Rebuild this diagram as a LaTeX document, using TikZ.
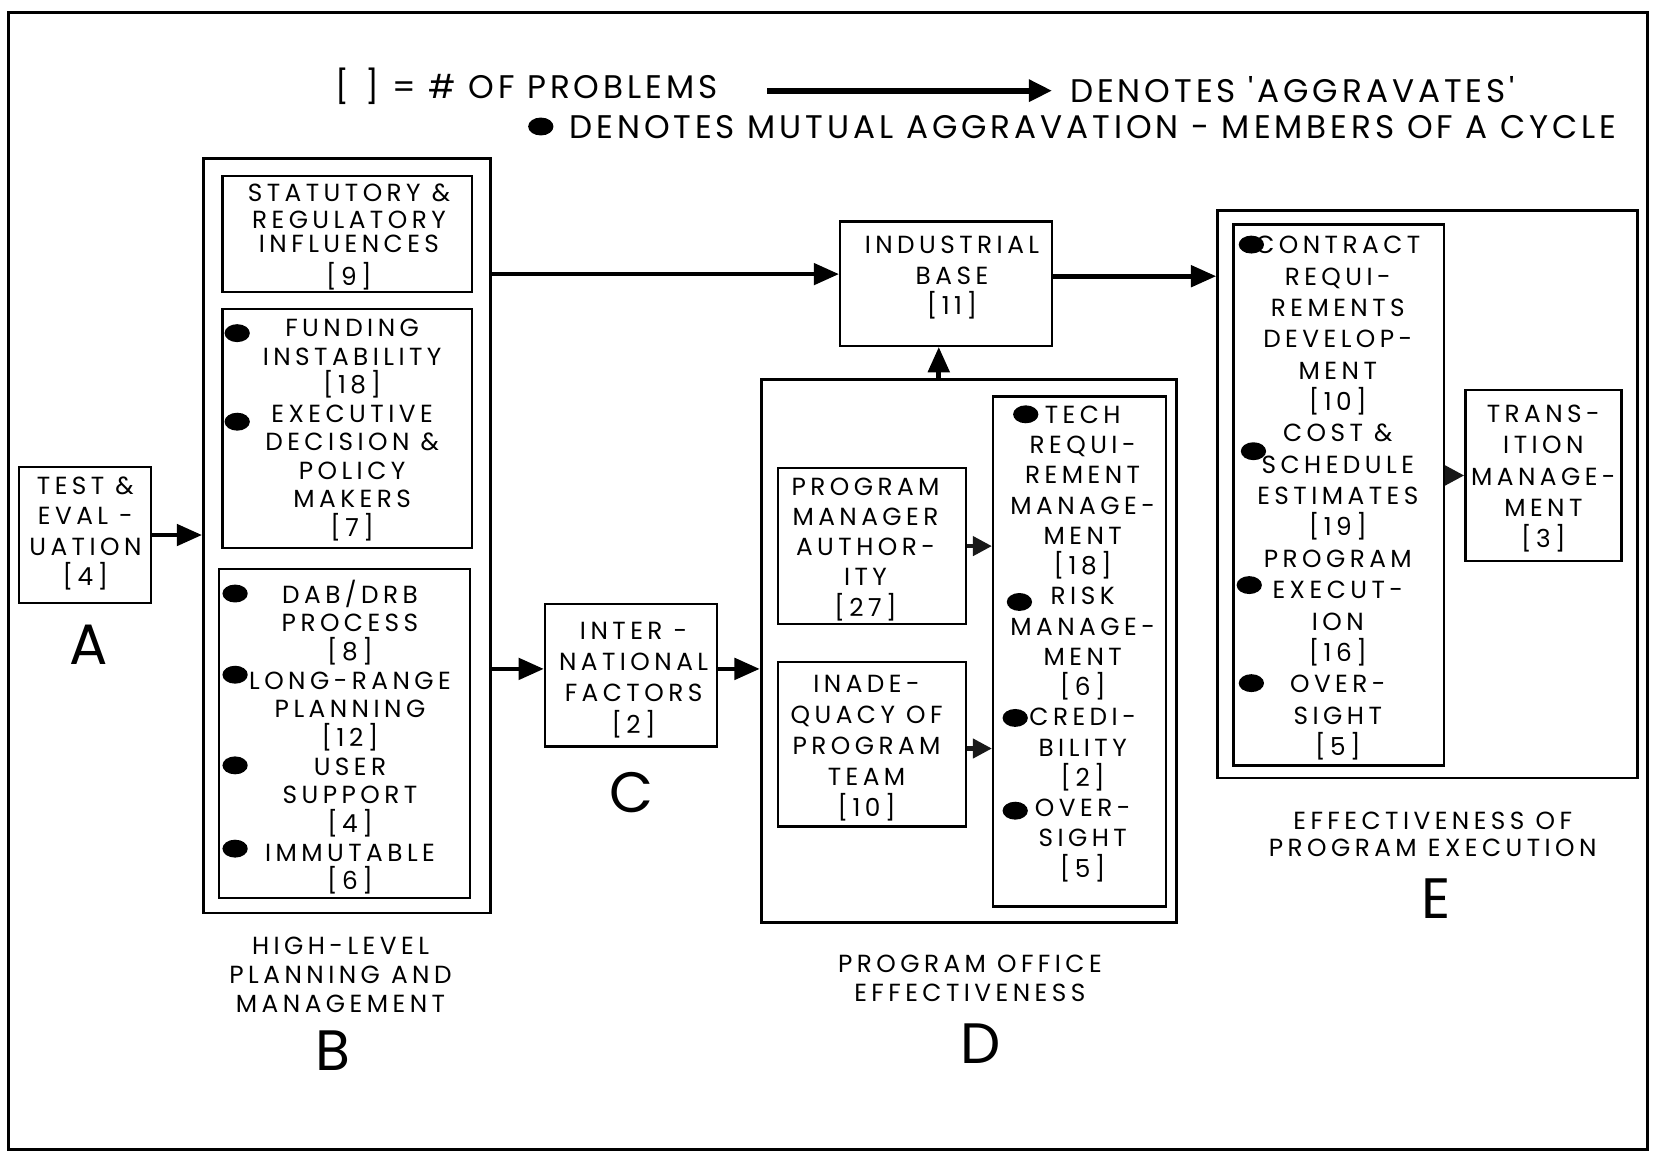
\documentclass[tikz,border=0pt]{standalone}
\usepackage{fontspec}
\setmainfont{Poppins}
\newfontfamily\lett{Poppins}[LetterSpace=18]
\newfontfamily\legendf{Poppins}[LetterSpace=12]
\newfontfamily\bigf{Poppins}
\usetikzlibrary{arrows.meta,shapes.geometric}
\newcommand\probs[1]{{[}#1{]}}
\begin{document}
\begin{tikzpicture}[x=1pt,y=-1pt,
  rbox/.style={draw, line width=2.2pt, inner sep=0pt, rectangle},
  obox/.style={draw, line width=2.6pt, inner sep=0pt, rectangle},
  txt/.style={align=center, inner sep=0pt, anchor=north, font={\lett\fontsize{23.5}{#1}\selectfont}},
  dot/.style={ellipse, fill=black, inner sep=0pt, minimum width=24pt, minimum height=17pt},
  arr/.style={line width=4.5pt, -{Triangle[length=24pt,width=20pt]}},
  sarr/.style={line width=4pt, draw=black!90, -{Triangle[length=18pt,width=18pt]}},
  larr/.style={line width=5.5pt, -{Triangle[length=22pt,width=20pt]}},
  bigl/.style={font={\bigf\fontsize{54}{54}\selectfont}, inner sep=0pt},
  legt/.style={font={\legendf\fontsize{31}{31}\selectfont}, inner sep=0pt, anchor=base west}
]
\useasboundingbox (0,0) rectangle (1568,1096);
\draw[line width=3pt] (8,12) rectangle (1563,1090);

% legend
\node[legt] (leg1) at (318,93) {\probs{\,\,\,} = \# OF PROBLEMS};
\coordinate (la1) at (728,86);
\coordinate (la2) at (998,86);
\draw[larr] (la1) -- (la2);
\node[legt] (leg2) at (1015,97) {DENOTES 'AGGRAVATES'};
\node[dot] (ld) at (513,120) {};
\node[legt] (leg3) at (540,131) {DENOTES MUTUAL AGGRAVATION - MEMBERS OF A CYCLE};

% boxes
\node[rbox, minimum width=125, minimum height=129] (test) at (80.5,507.5) {};
\node[obox, minimum width=272, minimum height=716] (Bout) at (329,508) {};
\node[rbox, minimum width=237, minimum height=110] (stat) at (329.5,222) {};
\node[rbox, minimum width=237, minimum height=227] (fund) at (329.5,406.5) {};
\node[rbox, minimum width=238, minimum height=312] (dab) at (327,696) {};
\node[rbox, minimum width=201, minimum height=118] (ind) at (897.5,269) {};
\node[rbox, minimum width=163, minimum height=135] (intl) at (598.5,640.5) {};
\node[obox, minimum width=394, minimum height=515] (Dout) at (919,617.5) {};
\node[rbox, minimum width=178, minimum height=148] (pma) at (827,518) {};
\node[rbox, minimum width=178, minimum height=156] (inad) at (827,706) {};
\node[rbox, minimum width=164, minimum height=484] (tech) at (1024,618) {};
\node[obox, minimum width=398, minimum height=538] (Eout) at (1354,469) {};
\node[rbox, minimum width=200, minimum height=513] (cont) at (1270,469.5) {};
\node[rbox, minimum width=148, minimum height=162] (trans) at (1464,451) {};

% texts
\node[txt=29] (testT) at (81,451.8) {TEST \&\\EVAL -\\UATION\\\probs{4}};
\node[txt=28] (statT) at (331,173.8) {STATUTORY \&\\[-2pt]REGULATORY\\[-5pt]INFLUENCES\\[3pt]\probs{9}};
\node[txt=27] (fundT) at (334,302.8) {FUNDING\\INSTABILITY\\\probs{18}\\EXECUTIVE\\DECISION \&\\POLICY\\MAKERS\\\probs{7}};
\node[txt=27.2] (dabT) at (332,549.8) {DAB/DRB\\PROCESS\\\probs{8}\\LONG-RANGE\\PLANNING\\\probs{12}\\USER\\SUPPORT\\\probs{4}\\IMMUTABLE\\\probs{6}};
\node[txt=29] (indT) at (903,223.8) {INDUSTRIAL\\BASE\\\probs{11}};
\node[txt=29.7] (intT) at (601,589.8) {INTER -\\NATIONAL\\FACTORS\\\probs{2}};
\node[txt=28.75] (pmaT) at (821,452.8) {PROGRAM\\MANAGER\\AUTHOR-\\ITY\\\probs{27}};
\node[txt=29.5] (inadT) at (822,639.8) {INADE-\\QUACY OF\\PROGRAM\\TEAM\\\probs{10}};
\node[txt=28.7] (techT) at (1027,384.8) {TECH\\REQUI-\\REMENT\\MANAGE-\\MENT\\\probs{18}\\RISK\\MANAGE-\\MENT\\\probs{6}\\CREDI-\\BILITY\\\probs{2}\\OVER-\\SIGHT\\\probs{5}};
\node[txt=29.75] (contT) at (1269,223.8) {CONTRACT\\REQUI-\\REMENTS\\DEVELOP-\\MENT\\\probs{10}\\COST \&\\SCHEDULE\\ESTIMATES\\\probs{19}\\PROGRAM\\EXECUT-\\ION\\\probs{16}\\OVER-\\SIGHT\\\probs{5}};
\node[txt=29.75] (transT) at (1464,383.8) {TRANS-\\ITION\\MANAGE-\\MENT\\\probs{3}};

% captions
\node[txt=27.5] (hlT) at (323,888.8) {HIGH-LEVEL\\PLANNING AND\\MANAGEMENT};
\node[txt=27] (poT) at (920,905.8) {PROGRAM OFFICE\\EFFECTIVENESS};
\node[txt=26] (epT) at (1359,769.8) {EFFECTIVENESS OF\\PROGRAM EXECUTION};
\node[bigl] (lA) at (84,612) {A};
\node[bigl] (lB) at (316,997) {B};
\node[bigl] (lC) at (599,752) {C};
\node[bigl] (lD) at (930,990) {D};
\node[bigl] (lE) at (1362,852) {E};

% dots
\node[dot] (d1) at (225,316) {};
\node[dot] (d2) at (225,400) {};
\node[dot] (d3) at (223,563) {};
\node[dot] (d4) at (223,640) {};
\node[dot] (d5) at (223,726) {};
\node[dot] (d6) at (223,805) {};
\node[dot] (d7) at (973,393) {};
\node[dot] (d8) at (967,571) {};
\node[dot] (d9) at (963,681) {};
\node[dot] (d10) at (963,769) {};
\node[dot] (d11) at (1187,232) {};
\node[dot] (d12) at (1189,428) {};
\node[dot] (d13) at (1185,555) {};
\node[dot] (d14) at (1187,648) {};

% connectors
\draw[arr] (test.east) -- (test.east -| Bout.west);
\coordinate (ia) at ([yshift=9pt]ind.west);
\draw[arr] (ia -| Bout.east) -- (ia);
\coordinate (ie) at ([yshift=7pt]ind.east);
\draw[arr] (ie) -- (ie -| Eout.west);
\coordinate (di) at ([xshift=-7pt]ind.south);
\draw[arr] (di |- Dout.north) -- (di);
\coordinate (ci) at ([yshift=6pt]intl.west);
\draw[arr] (ci -| Bout.east) -- (ci);
\coordinate (co) at ([yshift=6pt]intl.east);
\draw[arr] (co) -- (co -| Dout.west);
\draw[sarr] (pma.east) -- (pma.east -| tech.west);
\coordinate (io) at ([yshift=-4pt]inad.east);
\draw[sarr] (io) -- (io -| tech.west);
\draw[sarr] (trans.west -| cont.east) -- (trans.west);
\end{tikzpicture}
\end{document}
